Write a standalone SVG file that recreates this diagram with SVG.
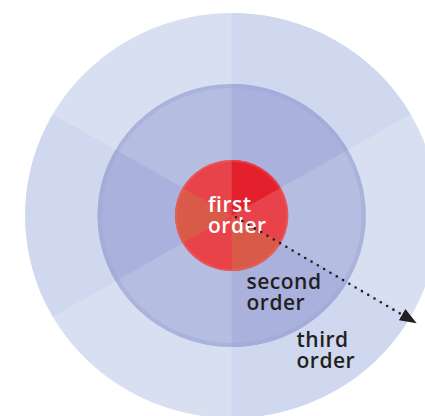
<svg xmlns="http://www.w3.org/2000/svg" width="425" height="416" viewBox="0 0 425 416">
  <style>
    .lbl { font-family: "Open Sans", "Liberation Sans", sans-serif; font-weight: 600; font-size: 21px; letter-spacing: 0.5px; }
    .dark { fill: #231f20; }
    .white { fill: #ffffff; }
  </style>
  <defs>
    <marker id="arrow" viewBox="0 0 17 13" refX="17" refY="6.5" markerUnits="userSpaceOnUse" markerWidth="17" markerHeight="13" orient="auto">
      <path d="M0,0 L17,6.5 L0,13 Z" fill="#231f20"/>
    </marker>
  </defs>
  <rect width="425" height="416" fill="#ffffff"/>
  <g transform="translate(231.7,215.5) scale(1.02,1)">
    <g id="third-order">
      <circle r="202.5" fill="#d7dff1"/>
      <path fill="#d0d8ef" d="M0,0 L175.37,-101.25 A202.5,202.5 0 0 0 0,-202.5 Z M0,0 L-175.37,-101.25 A202.5,202.5 0 0 0 -175.37,101.25 Z M0,0 L0,202.5 A202.5,202.5 0 0 0 175.37,101.25 Z"/>
    </g>
    <g id="second-order">
      <circle r="131.5" fill="#b5bde0"/>
      <path fill="#a9b1dc" d="M0,0 L113.88,-65.75 A131.5,131.5 0 0 0 0,-131.5 Z M0,0 L-113.88,-65.75 A131.5,131.5 0 0 0 -113.88,65.75 Z M0,0 L0,131.5 A131.5,131.5 0 0 0 113.88,65.75 Z"/>
      <circle r="129.5" fill="none" stroke="#9ea7d8" stroke-opacity="0.45" stroke-width="4"/>
    </g>
    <g id="first-order">
      <circle r="55.5" fill="#e8434a"/>
      <path fill="#e3202b" d="M0,0 L48.06,-27.75 A55.5,55.5 0 0 0 0,-55.5 Z"/>
      <path fill="#d95a48" d="M0,0 L-48.06,-27.75 A55.5,55.5 0 0 0 -48.06,27.75 Z M0,0 L0,55.5 A55.5,55.5 0 0 0 48.06,27.75 Z"/>
      <circle r="54.5" fill="none" stroke="#ee7070" stroke-opacity="0.35" stroke-width="2"/>
    </g>
  </g>
  <g id="labels">
    <text class="lbl white" x="208" y="212">first</text>
    <text class="lbl white" x="208" y="233">order</text>
    <text class="lbl dark" x="246.5" y="289">second</text>
    <text class="lbl dark" x="246.5" y="310">order</text>
    <text class="lbl dark" x="296.5" y="347">third</text>
    <text class="lbl dark" x="296.5" y="368">order</text>
  </g>
  <g id="connectors">
    <line x1="236" y1="217.3" x2="416.7" y2="323.3" stroke="#231f20" stroke-width="2.6" stroke-linecap="round" stroke-dasharray="0 7.3" marker-end="url(#arrow)"/>
  </g>
</svg>
